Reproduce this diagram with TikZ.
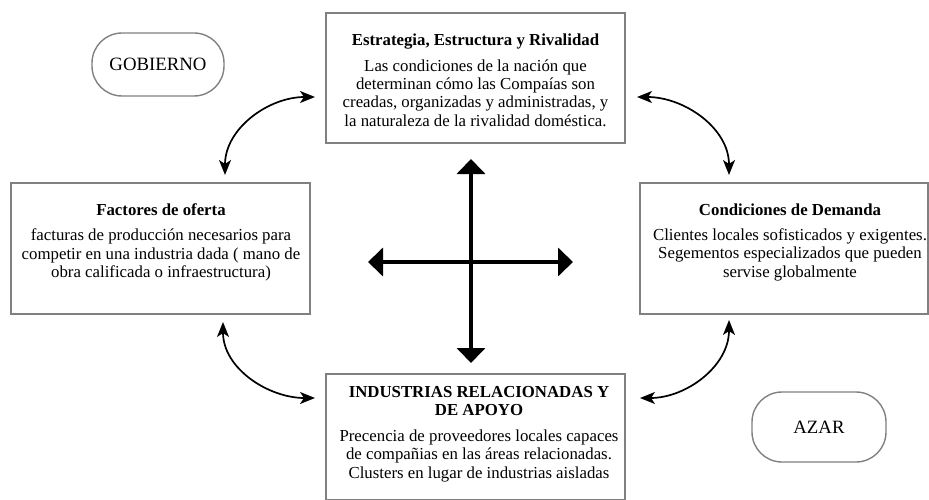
\documentclass[tikz,border=0pt]{standalone}
\usepackage{fontspec}
\setmainfont{Liberation Serif}
\usetikzlibrary{arrows.meta}
\definecolor{boxgray}{HTML}{808080}
\begin{document}
\begin{tikzpicture}[x=1pt,y=1pt,
  panel/.style={draw=boxgray, line width=1.6pt, inner sep=0pt, fill=white},
  pill/.style={draw=boxgray, line width=1.4pt, inner sep=0pt, rounded corners=30pt,
    font=\fontsize{18.8}{22}\selectfont},
  body/.style={inner sep=0pt, anchor=north, align=center,
    font=\fontsize{16.8}{18.3}\selectfont},
  cross/.style={line width=4.5pt, {Triangle[width=28pt,length=15pt]}-{Triangle[width=28pt,length=15pt]}},
  link/.style={line width=1.7pt, {Stealth[length=15pt,width=12pt,inset=4pt]}-{Stealth[length=15pt,width=12pt,inset=4pt]}}
]
\useasboundingbox (0,0) rectangle (929,-500);

% boxes
\node[panel, minimum width=299pt, minimum height=130pt] (est) at (475.5,-78) {};
\node[panel, minimum width=299pt, minimum height=131pt] (fac) at (160.5,-248.5) {};
\node[panel, minimum width=288pt, minimum height=131pt] (dem) at (784,-248.5) {};
\node[panel, minimum width=299pt, minimum height=126pt] (ind) at (475.5,-437) {};

% rounded
\node[pill, minimum width=132pt, minimum height=63pt] (gob) at (158,-64.5) {GOBIERNO};
\node[pill, minimum width=134pt, minimum height=70pt] (azar) at (819,-427) {AZAR};

% texts
\node[body] (estT) at (475.5,-33.5) {\textbf{Estrategia, Estructura y Rivalidad}\\[7.5pt]
  Las condiciones de la nación que\\
  determinan cómo las Compaías son\\
  creadas, organizadas y administradas, y\\
  la naturaleza de la rivalidad doméstica.};
\node[body] (facT) at (161,-203.5) {\textbf{Factores de oferta}\\[7pt]
  facturas de producción necesarios para\\
  competir en una industria dada ( mano de\\
  obra calificada o infraestructura)};
\node[body] (demT) at (790,-203.5) {\textbf{Condiciones de Demanda}\\[7pt]
  Clientes locales sofisticados y exigentes.\\
  Segementos especializados que pueden\\
  servise globalmente};
\node[body] (indT) at (479,-386) {\textbf{INDUSTRIAS RELACIONADAS Y}\\
  \textbf{DE APOYO}\\[7.5pt]
  Precencia de proveedores locales capaces\\
  de compañias en las áreas relacionadas.\\
  Clusters en lugar de industrias aisladas};

% cross
\coordinate (cN) at (471,-159);
\coordinate (cS) at (471,-363);
\coordinate (cW) at (368,-262);
\coordinate (cE) at (573,-262);
\draw[cross] (cN) -- (cS);
\draw[cross] (cW) -- (cE);

% curved links
\coordinate (tlA) at (225,-175);
\coordinate (tlB) at (315,-97);
\coordinate (trA) at (637,-97);
\coordinate (trB) at (729,-175);
\coordinate (blA) at (223,-322);
\coordinate (blB) at (315,-398);
\coordinate (brA) at (729,-320);
\coordinate (brB) at (640,-398);
\draw[link] (tlA) to[out=90,in=180] (tlB);
\draw[link] (trA) to[out=0,in=90] (trB);
\draw[link] (blA) to[out=-90,in=180] (blB);
\draw[link] (brA) to[out=-90,in=0] (brB);
\end{tikzpicture}
\end{document}
